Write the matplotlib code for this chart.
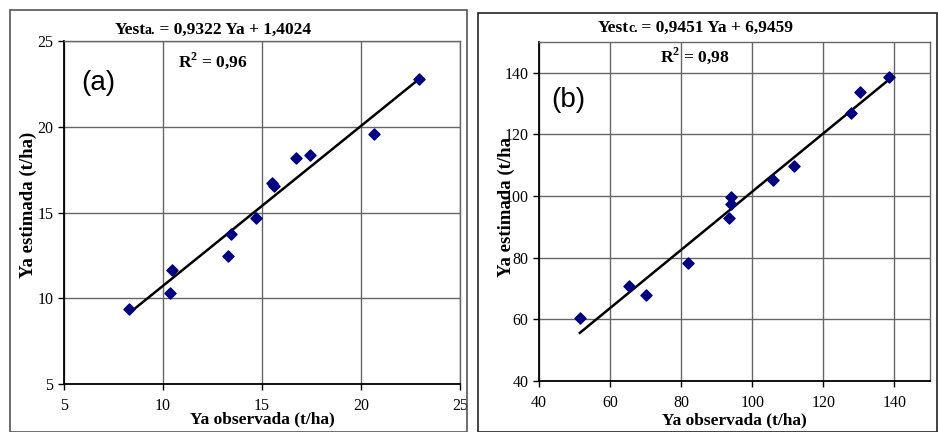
import matplotlib.pyplot as plt
from matplotlib.patches import Rectangle
from matplotlib.offsetbox import TextArea, HPacker, AnnotationBbox

# panel (a)
obs_a = [8.3, 10.35, 10.47, 13.28, 13.43, 14.68, 15.5, 15.6, 16.7, 17.4, 20.66, 22.94]
est_a = [9.35, 10.31, 11.63, 12.45, 13.73, 14.7, 16.72, 16.56, 18.18, 18.33, 19.56, 22.78]
slope_a, icpt_a = 0.9322, 1.4024

# panel (b)
obs_b = [51.5, 65.2, 70.0, 81.9, 93.5, 94.1, 94.1, 105.7, 111.6, 127.8, 130.2, 138.6]
est_b = [60.4, 70.9, 68.0, 78.3, 92.8, 99.8, 97.5, 105.3, 109.9, 126.9, 133.8, 138.6]
slope_b, icpt_b = 0.9451, 6.9459

serif = "Liberation Serif"
sans = "Liberation Sans"
navy = "#000080"
gridc = "#666666"

plt.rcParams["mathtext.fontset"] = "custom"
plt.rcParams["mathtext.rm"] = "Liberation Serif:bold"
plt.rcParams["mathtext.bf"] = "Liberation Serif:bold"

fig = plt.figure(figsize=(9.38, 4.32), dpi=100)

# outer frames of the two panels
fig.patches.append(Rectangle((10 / 938, 0), 457 / 938, 422 / 432, transform=fig.transFigure,
                             fill=False, edgecolor="#555555", linewidth=1.2))
fig.patches.append(Rectangle((478 / 938, 0), 459 / 938, 419 / 432, transform=fig.transFigure,
                             fill=False, edgecolor="#222222", linewidth=1.2))

ax_a = fig.add_axes([0.0682, 0.1111, 0.4222, 0.794])
ax_b = fig.add_axes([0.5746, 0.1181, 0.4169, 0.7847])


def style(ax, xlim, ylim, xticks, yticks):
    ax.set_xlim(*xlim)
    ax.set_ylim(*ylim)
    ax.set_xticks(xticks)
    ax.set_yticks(yticks)
    ax.grid(True, color=gridc, linewidth=1)
    ax.set_axisbelow(True)
    for s in ["top", "right"]:
        ax.spines[s].set_color(gridc)
        ax.spines[s].set_linewidth(1)
    for s in ["left", "bottom"]:
        ax.spines[s].set_color("black")
        ax.spines[s].set_linewidth(1.3)
    ax.tick_params(direction="out", length=4, width=1, labelsize=11.5)
    ax.tick_params(axis="x", pad=6)
    for lab in ax.get_xticklabels() + ax.get_yticklabels():
        lab.set_fontfamily(serif)


style(ax_a, (5, 25), (5, 25), [5, 10, 15, 20, 25], [5, 10, 15, 20, 25])
style(ax_b, (40, 150), (40, 150), [40, 60, 80, 100, 120, 140], [40, 60, 80, 100, 120, 140])

# regression lines
xa = [min(obs_a), max(obs_a)]
ax_a.plot(xa, [slope_a * v + icpt_a for v in xa], color="black", linewidth=1.8, zorder=2)
xb = [min(obs_b), max(obs_b)]
ax_b.plot(xb, [slope_b * v + icpt_b for v in xb], color="black", linewidth=1.8, zorder=2)

ax_a.scatter(obs_a, est_a, marker="D", s=32, color=navy, zorder=3)
ax_b.scatter(obs_b, est_b, marker="D", s=32, color=navy, zorder=3)

lab_kw = dict(fontfamily=serif, fontweight="bold", fontsize=12.5)
ax_a.set_xlabel("Ya observada (t/ha)", **lab_kw)
ax_a.set_ylabel("Ya estimada (t/ha)", fontfamily=serif, fontweight="bold", fontsize=13.5)
ax_a.xaxis.set_label_coords(0.5, -0.08)
ax_a.yaxis.set_label_coords(-0.068, 0.522)
ax_b.set_xlabel("Ya observada (t/ha)", **lab_kw)
ax_b.set_ylabel("Ya estimada (t/ha", fontfamily=serif, fontweight="bold", fontsize=13.5)
ax_b.xaxis.set_label_coords(0.5, -0.093)
ax_b.yaxis.set_label_coords(-0.061, 0.512)


def equation(ax, x, y, sub, rest):
    big = dict(fontfamily=serif, fontweight="bold", fontsize=12.5)
    small = dict(fontfamily=serif, fontweight="bold", fontsize=10)
    box = HPacker(children=[TextArea("Yest", textprops=big),
                            TextArea(sub, textprops=small),
                            TextArea(rest, textprops=big)],
                  align="baseline", pad=0, sep=-0.5)
    ab = AnnotationBbox(box, (x, y), xycoords=ax.transAxes, frameon=False,
                        box_alignment=(0.5, 0.5), annotation_clip=False)
    ax.add_artist(ab)


equation(ax_a, 0.375, 1.032, "a.", " = 0,9322 Ya + 1,4024")
equation(ax_b, 0.40, 1.041, "c.", " = 0,9451 Ya + 6,9459")

r_kw = dict(fontfamily=serif, fontweight="bold", fontsize=12.5, ha="center", va="center")
ax_a.text(0.375, 0.942, "R$^{2}$ = 0,96", transform=ax_a.transAxes, **r_kw)
ax_b.text(0.40, 0.959, "R$^{2}$ = 0,98", transform=ax_b.transAxes, **r_kw)

ax_a.text(0.086, 0.878, "(a)", fontfamily=sans, fontsize=20, ha="center", va="center",
          transform=ax_a.transAxes)
ax_b.text(0.074, 0.829, "(b)", fontfamily=sans, fontsize=20, ha="center", va="center",
          transform=ax_b.transAxes)

fig.savefig("out.png", dpi=100)
